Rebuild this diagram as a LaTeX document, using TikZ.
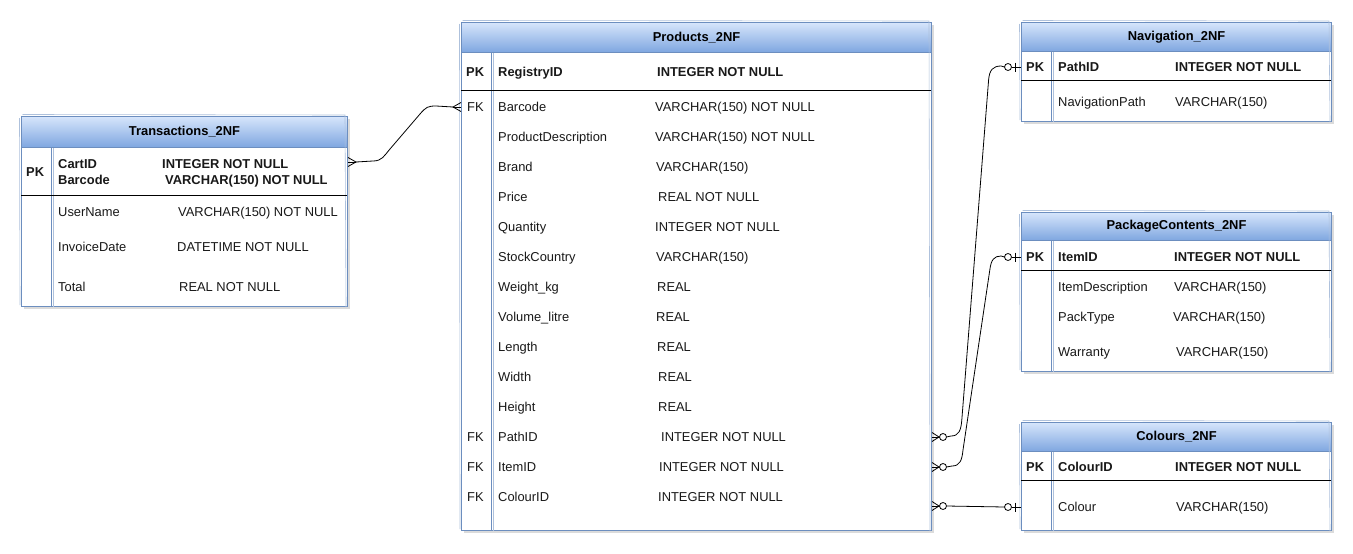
\documentclass[tikz,border=0pt]{standalone}
\usepackage{fontspec}
\setmainfont{Liberation Sans}
\definecolor{hdrtop}{HTML}{D6E5FB}
\definecolor{hdrbot}{HTML}{7EA6E0}
\definecolor{bordc}{HTML}{6C8EBF}
\tikzset{
  hdr/.style={draw=bordc, top color=hdrtop, bottom color=hdrbot, anchor=north west, inner sep=0pt, line width=1pt, font=\fontsize{12.9}{15}\selectfont\bfseries},
  tbody/.style={draw=bordc, fill=white, anchor=north west, inner sep=0pt, line width=1pt},
  txt/.style={anchor=west, inner sep=0pt, yshift=-1pt, text height=9.2pt, text depth=0pt, font=\fontsize{12.9}{15}\selectfont, text=black!90},
  btxt/.style={txt, font=\fontsize{12.9}{15}\selectfont\bfseries},
  conn/.style={black, line width=0.8pt},
  sepline/.style={black, line width=1pt},
  divline/.style={bordc, line width=1pt},
  sketchline/.style={bordc!55, line width=0.6pt},
  shad/.style={fill=black!14, draw=none},
  crow/.pic={\draw[conn] (0,-4.5) -- (8,0) -- (0,4.5); \draw[conn] (0,0) -- (8,0);},
  zeromany/.pic={\draw[conn] (0,-4.5) -- (7,0) -- (0,4.5); \draw[conn] (0,0) -- (7.5,0); \draw[conn, fill=white] (11,0) circle (3.5pt);},
  zeroone/.pic={\draw[conn] (0,0) -- (-9.5,0); \draw[conn] (-6,-4.5) -- (-6,4.5); \draw[conn, fill=white] (-13,0) circle (3.5pt);},
}
\begin{document}
\begin{tikzpicture}[x=1pt, y=-1pt]
\useasboundingbox[fill=white] (0,0) rectangle (1353,554);

% shadows
\fill[shad] (24,119) rectangle (350,309);
\fill[shad] (464,25) rectangle (934,533);
\fill[shad] (1024,25) rectangle (1334,124);
\fill[shad] (1024,215) rectangle (1334,374);
\fill[shad] (1024,425) rectangle (1334,533);

% ---------- Transactions ----------
\node[tbody, minimum width=326pt, minimum height=159pt] (trB) at (21,147) {};
\node[hdr, minimum width=326pt, minimum height=31pt] (trH) at (21,116) {Transactions\_2NF};
\draw[sketchline] (22.5,114.5) -- (345,115) -- (346,307) (19.5,118) -- (20,305);
\draw[divline] (51,147) -- (51,306);
\draw[sketchline] (53,148) -- (53,307);
\draw[sepline] (21,195) -- (347,195);
\node[btxt] (trPK) at (26,171) {PK};
\node[btxt] (trN1) at (58,163) {CartID};
\node[btxt] (trT1) at (162,163) {INTEGER NOT NULL};
\node[btxt] (trN2) at (58,179) {Barcode};
\node[btxt] (trT2) at (165,179) {VARCHAR(150) NOT NULL};
\node[txt] (trN3) at (58,211) {UserName};
\node[txt] (trT3) at (178,211) {VARCHAR(150) NOT NULL};
\node[txt] (trN4) at (58,246) {InvoiceDate};
\node[txt] (trT4) at (177,246) {DATETIME NOT NULL};
\node[txt] (trN5) at (58,286) {Total};
\node[txt] (trT5) at (179,286) {REAL NOT NULL};

% ---------- Products ----------
\node[tbody, minimum width=470pt, minimum height=478pt] (prB) at (461,52) {};
\node[hdr, minimum width=470pt, minimum height=30pt] (prH) at (461,22) {Products\_2NF};
\draw[sketchline] (462.5,20.5) -- (929,21) -- (930,531) (459.5,24) -- (460,529);
\draw[divline] (491,52) -- (491,530);
\draw[sketchline] (493,53) -- (493,531);
\draw[sepline] (461,90) -- (931,90);
\node[btxt] (prPK) at (466,71) {PK};
\node[btxt] (prN0) at (498,71) {RegistryID};
\node[btxt] (prT0) at (657,71) {INTEGER NOT NULL};
\node[txt] (prFK1) at (467,106) {FK};
\node[txt] (prN1) at (498,106) {Barcode};
\node[txt] (prT1) at (655,106) {VARCHAR(150) NOT NULL};
\node[txt] (prN2) at (498,136) {ProductDescription};
\node[txt] (prT2) at (655,136) {VARCHAR(150) NOT NULL};
\node[txt] (prN3) at (498,166) {Brand};
\node[txt] (prT3) at (656,166) {VARCHAR(150)};
\node[txt] (prN4) at (498,196) {Price};
\node[txt] (prT4) at (658,196) {REAL NOT NULL};
\node[txt] (prN5) at (498,226) {Quantity};
\node[txt] (prT5) at (655,226) {INTEGER NOT NULL};
\node[txt] (prN6) at (498,256) {StockCountry};
\node[txt] (prT6) at (656,256) {VARCHAR(150)};
\node[txt] (prN7) at (498,286) {Weight\_kg};
\node[txt] (prT7) at (657,286) {REAL};
\node[txt] (prN8) at (498,316) {Volume\_litre};
\node[txt] (prT8) at (656,316) {REAL};
\node[txt] (prN9) at (498,346) {Length};
\node[txt] (prT9) at (657,346) {REAL};
\node[txt] (prN10) at (498,376) {Width};
\node[txt] (prT10) at (658,376) {REAL};
\node[txt] (prN11) at (498,406) {Height};
\node[txt] (prT11) at (658,406) {REAL};
\node[txt] (prFK2) at (467,436) {FK};
\node[txt] (prN12) at (498,436) {PathID};
\node[txt] (prT12) at (661,436) {INTEGER NOT NULL};
\node[txt] (prFK3) at (467,466) {FK};
\node[txt] (prN13) at (498,466) {ItemID};
\node[txt] (prT13) at (659,466) {INTEGER NOT NULL};
\node[txt] (prFK4) at (467,496) {FK};
\node[txt] (prN14) at (498,496) {ColourID};
\node[txt] (prT14) at (658,496) {INTEGER NOT NULL};

% ---------- Navigation ----------
\node[tbody, minimum width=310pt, minimum height=70pt] (nvB) at (1021,51) {};
\node[hdr, minimum width=310pt, minimum height=29pt] (nvH) at (1021,22) {Navigation\_2NF};
\draw[sketchline] (1022.5,20.5) -- (1329,21) -- (1330,122) (1019.5,24) -- (1020,120);
\draw[divline] (1051,51) -- (1051,121);
\draw[sketchline] (1053,52) -- (1053,122);
\draw[sepline] (1021,80) -- (1331,80);
\node[btxt] (nvPK) at (1026,66) {PK};
\node[btxt] (nvN1) at (1058,66) {PathID};
\node[btxt] (nvT1) at (1175,66) {INTEGER NOT NULL};
\node[txt] (nvN2) at (1058,101) {NavigationPath};
\node[txt] (nvT2) at (1175,101) {VARCHAR(150)};

% ---------- PackageContents ----------
\node[tbody, minimum width=310pt, minimum height=131pt] (pcB) at (1021,240) {};
\node[hdr, minimum width=310pt, minimum height=28pt] (pcH) at (1021,212) {PackageContents\_2NF};
\draw[sketchline] (1022.5,210.5) -- (1329,211) -- (1330,372) (1019.5,214) -- (1020,370);
\draw[divline] (1051,240) -- (1051,371);
\draw[sketchline] (1053,241) -- (1053,372);
\draw[sepline] (1021,270) -- (1331,270);
\node[btxt] (pcPK) at (1026,256) {PK};
\node[btxt] (pcN1) at (1058,256) {ItemID};
\node[btxt] (pcT1) at (1174,256) {INTEGER NOT NULL};
\node[txt] (pcN2) at (1058,286) {ItemDescription};
\node[txt] (pcT2) at (1174,286) {VARCHAR(150)};
\node[txt] (pcN3) at (1058,316) {PackType};
\node[txt] (pcT3) at (1173,316) {VARCHAR(150)};
\node[txt] (pcN4) at (1058,351) {Warranty};
\node[txt] (pcT4) at (1176,351) {VARCHAR(150)};

% ---------- Colours ----------
\node[tbody, minimum width=310pt, minimum height=79pt] (coB) at (1021,451) {};
\node[hdr, minimum width=310pt, minimum height=29pt] (coH) at (1021,422) {Colours\_2NF};
\draw[sketchline] (1022.5,420.5) -- (1329,421) -- (1330,531) (1019.5,424) -- (1020,529);
\draw[divline] (1051,451) -- (1051,530);
\draw[sketchline] (1053,452) -- (1053,531);
\draw[sepline] (1021,480) -- (1331,480);
\node[btxt] (coPK) at (1026,466) {PK};
\node[btxt] (coN1) at (1058,466) {ColourID};
\node[btxt] (coT1) at (1175,466) {INTEGER NOT NULL};
\node[txt] (coN2) at (1058,506) {Colour};
\node[txt] (coT2) at (1176,506) {VARCHAR(150)};

% ---------- connector end points ----------
\coordinate (trOut) at ([yshift=2pt]trB.east |- trN1.west);
\coordinate (prIn) at (prB.west |- prFK1.west);
\coordinate (prPath) at (prB.east |- prN12.west);
\coordinate (prItem) at (prB.east |- prN13.west);
\coordinate (prCol) at ([yshift=-9pt]prB.east |- prN14.west);
\coordinate (nvIn) at (nvB.west |- nvN1.west);
\coordinate (pcIn) at (pcB.west |- pcN1.west);
\coordinate (coIn) at (coB.west |- coN2.west);

% Transactions -- Products (Barcode)
\draw[conn] ([xshift=8pt]trOut) -- (373,161) .. controls (382,161) and (384,156) .. (390,149)
  -- (420,114) .. controls (426,107) and (428,106) .. (436,106) -- ([xshift=-8pt]prIn);
\pic at (trOut) {crow};
\pic[xscale=-1] at (prIn) {crow};

% Products (PathID) -- Navigation
\draw[conn] ([xshift=14.5pt]prPath) -- (951,436) .. controls (959,436) and (961,430) .. (961.8,420)
  -- (988.6,80) .. controls (989.4,70) and (993,66) .. (1001,66) -- ([xshift=-16.5pt]nvIn);
\pic at (prPath) {zeromany};
\pic at (nvIn) {zeroone};

% Products (ItemID) -- PackageContents
\draw[conn] ([xshift=14.5pt]prItem) -- (952,466) .. controls (960,466) and (962,460) .. (963,450)
  -- (989.8,270) .. controls (991,260) and (994,256) .. (1001,256) -- ([xshift=-16.5pt]pcIn);
\pic at (prItem) {zeromany};
\pic at (pcIn) {zeroone};

% Products (ColourID) -- Colours
\draw[conn] ([xshift=14.5pt]prCol) -- ([xshift=-16.5pt]coIn);
\pic at (prCol) {zeromany};
\pic at (coIn) {zeroone};

\end{tikzpicture}
\end{document}
